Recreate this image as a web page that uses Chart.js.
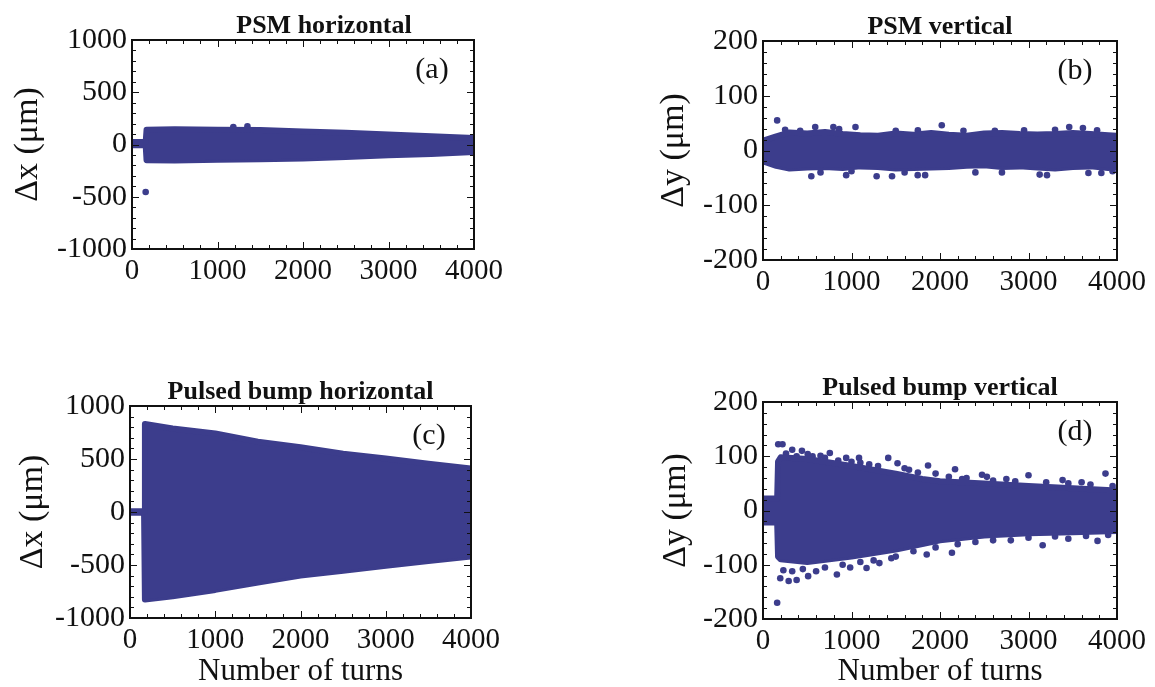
<!DOCTYPE html>
<html>
<head>
<meta charset="utf-8">
<script src="https://cdn.jsdelivr.net/npm/chart.js@4.4.1/dist/chart.umd.min.js"></script>
<style>
html, body { margin: 0; padding: 0; background: #fff; }
#wrap { position: relative; width: 1155px; height: 687px; overflow: hidden; }
canvas { position: absolute; }
</style>
</head>
<body>
<div id="wrap">
  <canvas id="psmH" width="577" height="343" style="left:0;top:0"></canvas>
  <canvas id="psmV" width="578" height="343" style="left:577px;top:0"></canvas>
  <canvas id="bumpH" width="577" height="344" style="left:0;top:343px"></canvas>
  <canvas id="bumpV" width="578" height="344" style="left:577px;top:343px"></canvas>
</div>
<script>
// tick labels
var turnTicks = [0, 1000, 2000, 3000, 4000];
var dxTicks = [-1000, -500, 0, 500, 1000];
var dyTicks = [-200, -100, 0, 100, 200];

// (a) PSM horizontal - edges of the dense band (marker centres) + stray points
var psmHTurns  = [0, 160, 170, 500, 1000, 1500, 2000, 2500, 3000, 3500, 4000];
var psmHTop    = [25, 25, 140, 145, 142, 138, 125, 112, 96, 80, 62];
var psmHBottom = [-8, -8, -150, -152, -147, -140, -135, -120, -104, -90, -72];
var psmHStrayTurns = [160, 1185, 1350];
var psmHStrayVals  = [-455, 167, 173];

// (b) PSM vertical
var psmVTurns  = [0, 150, 300, 500, 700, 900, 1100, 1300, 1500, 1700, 1900, 2100, 2300, 2500, 2700, 2900, 3100, 3300, 3500, 3700, 3900, 4000];
var psmVTop    = [18, 26, 33, 31, 34, 30, 28, 27, 31, 29, 32, 29, 27, 31, 32, 30, 29, 30, 32, 30, 28, 27];
var psmVBottom = [-20, -28, -33, -31, -30, -32, -29, -30, -33, -32, -31, -30, -28, -27, -30, -29, -31, -33, -30, -29, -32, -30];
var psmVStrayTurns = [160, 250, 420, 590, 795, 860, 1045, 1500, 1750, 2020, 2265, 2620, 2950, 3300, 3460, 3615, 3775,
                      546, 650, 940, 1000, 1284, 1458, 1600, 1748, 1832, 2400, 2700, 3126, 3209, 3677, 3823, 3950];
var psmVStrayVals  = [55, 38, 36, 43, 43, 39, 43, 36, 37, 46, 36, 36, 37, 38, 43, 41, 37,
                      -47, -40, -45, -38, -47, -47, -40, -45, -45, -40, -40, -44, -45, -41, -41, -38];

// (c) Pulsed bump horizontal
var bumpHTurns  = [0, 165, 175, 500, 1000, 1500, 2000, 2500, 3000, 3500, 4000];
var bumpHTop    = [8, 8, 830, 787, 740, 663, 610, 550, 505, 455, 410];
var bumpHBottom = [-8, -8, -825, -794, -735, -665, -600, -555, -507, -462, -420];
var bumpHStrayTurns = [];
var bumpHStrayVals  = [];

// (d) Pulsed bump vertical
var bumpVTurns  = [0, 160, 170, 200, 500, 1000, 1500, 1800, 2000, 2500, 3000, 3500, 4000];
var bumpVTop    = [22, 22, 90, 98, 95, 82, 68, 58, 54, 50, 45, 41, 37];
var bumpVBottom = [-22, -22, -85, -90, -95, -85, -72, -62, -55, -46, -42, -40, -38];
var bumpVStrayTurns = [172, 220, 330, 440, 505, 650, 755, 940, 1085, 1200, 1415, 1520, 1650, 1865, 2170, 2300, 2475, 2530, 2750, 3000, 3385, 3600, 3870,
                       260, 380, 560, 700, 850, 1000, 1100, 1300, 1600, 1750, 1950, 2100, 2250, 2600, 2850, 3200, 3450, 3700, 3950,
                       160, 195, 290, 380, 510, 600, 835, 985, 1170, 1315, 1450, 1850, 2135, 2400, 2800, 3160, 3450, 3780,
                       230, 330, 450, 700, 900, 1100, 1250, 1500, 1700, 1950, 2200, 2600, 3000, 3300, 3650, 3900];
var bumpVStrayVals  = [122, 122, 112, 110, 104, 101, 106, 97, 97, 85, 97, 87, 75, 83, 76, 60, 66, 62, 58, 65, 56, 52, 68,
                       105, 100, 100, 97, 92, 90, 88, 82, 78, 70, 68, 62, 58, 55, 54, 52, 50, 48, 45,
                       -170, -125, -130, -128, -121, -112, -118, -105, -106, -97, -88, -81, -78, -58, -55, -64, -52, -56,
                       -110, -112, -108, -105, -100, -95, -92, -85, -75, -68, -62, -55, -50, -48, -47, -45];

var dotColor = '#3c3d8c';
var serif = '"Liberation Serif", "Times New Roman", serif';

function pts(xs, ys) {
    return xs.map(function(x, i) { return {x: x, y: ys[i]}; });
}

// inward ticks on all four sides, the frame, panel title and tag
var frameTicks = {
    id: 'frameTicks',
    afterDatasetsDraw: function(chart, args, o) {
        var ctx = chart.ctx, a = chart.chartArea;
        var xs = chart.scales.x, ys = chart.scales.y;
        ctx.save();
        ctx.strokeStyle = '#111';
        ctx.lineWidth = 1;
        ctx.beginPath();
        for (var t = xs.min; t <= xs.max; t += o.xStep) {
            var px = Math.round(xs.getPixelForValue(t)) + 0.5;
            var len = (t % o.xMajor === 0) ? 7 : 4;
            ctx.moveTo(px, a.bottom); ctx.lineTo(px, a.bottom - len);
            ctx.moveTo(px, a.top); ctx.lineTo(px, a.top + len);
        }
        for (var v = ys.min; v <= ys.max; v += o.yStep) {
            var py = Math.round(ys.getPixelForValue(v)) + 0.5;
            var l2 = (v % o.yMajor === 0) ? 7 : 4;
            ctx.moveTo(a.left, py); ctx.lineTo(a.left + l2, py);
            ctx.moveTo(a.right, py); ctx.lineTo(a.right - l2, py);
        }
        ctx.stroke();
        ctx.lineWidth = 2;
        ctx.strokeRect(a.left, a.top, a.right - a.left, a.bottom - a.top);

        ctx.fillStyle = '#111';
        ctx.textAlign = 'center';
        ctx.textBaseline = 'alphabetic';
        ctx.font = 'bold 26px ' + serif;
        ctx.fillText(o.title, (a.left + a.right) / 2 + o.shift, a.top - 7);
        ctx.textBaseline = 'middle';
        ctx.font = '30px ' + serif;
        ctx.fillText(o.tag, a.right - 42, a.top + 30);
        ctx.restore();
    }
};

function makePanel(id, p) {
    var r = 3;
    var datasets = [
        {data: pts(p.turns, p.top), showLine: true, fill: '+1', backgroundColor: dotColor,
         borderColor: dotColor, borderWidth: 2 * r, pointRadius: 0, borderJoinStyle: 'round',
         borderCapStyle: 'round', clip: 0},
        {data: pts(p.turns, p.bottom), showLine: true, fill: false, borderColor: dotColor,
         borderWidth: 2 * r, pointRadius: 0, borderJoinStyle: 'round', borderCapStyle: 'round', clip: 0},
        {data: pts(p.strayTurns, p.strayVals), showLine: false, pointRadius: r + 0.3, pointBorderWidth: 0,
         backgroundColor: dotColor, borderColor: dotColor, clip: 0}
    ];
    return new Chart(document.getElementById(id), {
        type: 'scatter',
        data: {datasets: datasets},
        options: {
            responsive: false,
            animation: false,
            layout: {padding: {left: 0, top: p.area.top, right: p.area.right, bottom: p.area.bottom}},
            plugins: {
                legend: {display: false},
                tooltip: {enabled: false},
                frameTicks: {title: p.title, tag: p.tag, shift: p.shift || 0,
                             xStep: 200, xMajor: 1000, yStep: p.yStep, yMajor: p.yMajor}
            },
            scales: {
                x: {
                    type: 'linear', min: 0, max: 4000,
                    grid: {display: false, drawTicks: false},
                    border: {display: false},
                    ticks: {font: {family: serif, size: 29}, color: '#111', padding: 5,
                            autoSkip: false, maxRotation: 0,
                            callback: function(v) { return String(v); }},
                    afterBuildTicks: function(s) { s.ticks = turnTicks.map(function(v) { return {value: v}; }); },
                    afterFit: function(s) { s.height = p.area.xh; },
                    title: {display: !!p.xTitle, text: p.xTitle || '', color: '#111',
                            font: {family: serif, size: 31, lineHeight: 1}, padding: {top: 0, bottom: 0}}
                },
                y: {
                    type: 'linear', min: p.yTicks[0], max: p.yTicks[p.yTicks.length - 1],
                    grid: {display: false, drawTicks: false},
                    border: {display: false},
                    ticks: {font: {family: serif, size: 30}, color: '#111', padding: 5,
                            callback: function(v) { return String(v); }},
                    afterBuildTicks: function(s) { s.ticks = p.yTicks.map(function(v) { return {value: v}; }); },
                    afterFit: function(s) { s.width = p.area.yw; },
                    title: {display: true, text: p.yTitle, color: '#111',
                            font: {family: serif, size: 34, lineHeight: 1}, padding: {top: p.area.ytp, bottom: 0}}
                }
            }
        },
        plugins: [frameTicks]
    });
}

makePanel('psmH', {
    turns: psmHTurns, top: psmHTop, bottom: psmHBottom,
    strayTurns: psmHStrayTurns, strayVals: psmHStrayVals,
    yTicks: dxTicks, yStep: 100, yMajor: 500,
    title: 'PSM horizontal', tag: '(a)', shift: 21, yTitle: 'Δx (μm)',
    area: {top: 40, right: 103, bottom: 34, xh: 60, yw: 132, ytp: 11}
});
makePanel('psmV', {
    turns: psmVTurns, top: psmVTop, bottom: psmVBottom,
    strayTurns: psmVStrayTurns, strayVals: psmVStrayVals,
    yTicks: dyTicks, yStep: 20, yMajor: 100,
    title: 'PSM vertical', tag: '(b)', yTitle: 'Δy (μm)',
    area: {top: 41, right: 38, bottom: 23, xh: 60, yw: 186, ytp: 80}
});
makePanel('bumpH', {
    turns: bumpHTurns, top: bumpHTop, bottom: bumpHBottom,
    strayTurns: bumpHStrayTurns, strayVals: bumpHStrayVals,
    yTicks: dxTicks, yStep: 100, yMajor: 500,
    title: 'Pulsed bump horizontal', tag: '(c)', yTitle: 'Δx (μm)', xTitle: 'Number of turns',
    area: {top: 63, right: 106, bottom: 0, xh: 69, yw: 130, ytp: 16}
});
makePanel('bumpV', {
    turns: bumpVTurns, top: bumpVTop, bottom: bumpVBottom,
    strayTurns: bumpVStrayTurns, strayVals: bumpVStrayVals,
    yTicks: dyTicks, yStep: 20, yMajor: 100,
    title: 'Pulsed bump vertical', tag: '(d)', yTitle: 'Δy (μm)', xTitle: 'Number of turns',
    area: {top: 59, right: 38, bottom: 0, xh: 68, yw: 186, ytp: 82}
});
</script>
</body>
</html>
